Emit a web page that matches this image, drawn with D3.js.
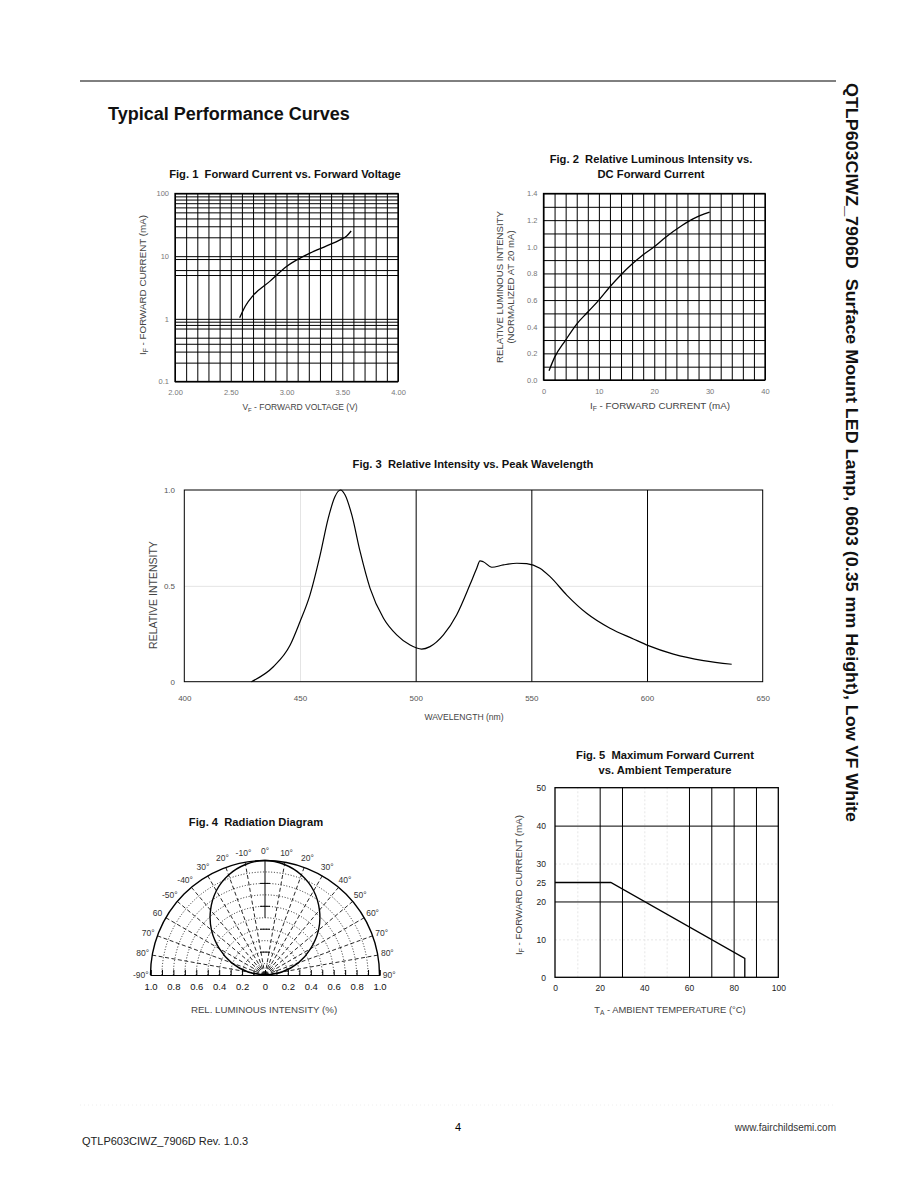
<!DOCTYPE html>
<html lang="en">
<head>
<meta charset="UTF-8">
<title>Typical Performance Curves</title>
<script src="https://cdn.jsdelivr.net/npm/d3@7/dist/d3.min.js"></script>
<style>
    body{margin:0;background:#fff;}
    svg{display:block;font-family:"Liberation Sans",Arial,Helvetica,sans-serif;}
    .pre{white-space:pre;}
</style>
</head>
<body>
<svg id="page" width="918" height="1188"></svg>
<script>

    // ---- data ----
    // fig 1: forward current vs forward voltage
    var fig1Voltage = [2.58, 2.63, 2.70, 2.85, 3.00, 3.21, 3.36, 3.48, 3.54, 3.58];
    var fig1Current = [1.04, 1.59, 2.35, 3.96, 6.86, 11.2, 14.6, 18.2, 21.0, 25.2];
    var fig1VoltTicks = [2.0, 2.5, 3.0, 3.5, 4.0];
    var fig1CurrTicks = [0.1, 1, 10, 100];
    var fig1CurrGrid = [0.2, 0.3, 0.4, 0.5, 0.7, 0.8, 0.9, 5, 6, 9, 20, 30, 40, 50, 60, 70, 80, 90];

    // fig 2: relative luminous intensity vs dc forward current
    var fig2Current = [1, 2, 4, 6, 8, 10, 12, 14, 16, 18, 20, 22, 25, 27, 30];
    var fig2Intensity = [0.07, 0.17, 0.30, 0.42, 0.51, 0.60, 0.70, 0.79, 0.87, 0.94, 1.0, 1.07, 1.16, 1.21, 1.26];
    var fig2CurrTicks = [0, 10, 20, 30, 40];
    var fig2IntTicks = [0.0, 0.2, 0.4, 0.6, 0.8, 1.0, 1.2, 1.4];

    // fig 3: relative intensity vs wavelength
    var fig3Wavelength = [429, 438.5, 445.7, 450, 454.3, 458.7, 462.2, 465.1, 467.5, 469.5, 472.4, 476, 480.3, 486.1,
        491.8, 497.6, 502.6, 506.2, 512, 517.7, 523.4, 526.4, 527.8, 529.2, 532.9, 537.9, 543.7, 548, 553.7, 558.1,
        565.3, 573.9, 584, 594.1, 600.6, 611.4, 624.4, 636.6];
    var fig3Intensity = [0, 0.078, 0.19, 0.313, 0.452, 0.66, 0.852, 0.965, 1.0, 0.974, 0.87, 0.678, 0.487, 0.331,
        0.244, 0.191, 0.17, 0.183, 0.244, 0.348, 0.504, 0.592, 0.63, 0.626, 0.597, 0.609, 0.618, 0.616, 0.592, 0.548,
        0.452, 0.357, 0.279, 0.223, 0.188, 0.144, 0.11, 0.091];
    var fig3WaveTicks = [400, 450, 500, 550, 600, 650];
    var fig3WaveGrid = [500, 550, 600];
    var fig3IntTicks = [0, 0.5, 1.0];

    // fig 4: radiation diagram (symmetric, 0..90 deg)
    var fig4Angle = [0, 10, 20, 30, 40, 50, 60, 70, 80, 90];
    var fig4Intensity = [1.0, 0.98, 0.93, 0.85, 0.74, 0.61, 0.46, 0.31, 0.15, 0];
    var fig4AngleTicks = [-90, -80, -70, -60, -50, -40, -30, -20, -10, 0, 10, 20, 30, 40, 50, 60, 70, 80, 90];
    var fig4AngleLabels = ['-90°', '80°', '70°', '60', '-50°', '-40°', '30°', '20°', '-10°', '0°',
        '10°', '20°', '30°', '40°', '50°', '60°', '70°', '80°', '90°'];
    var fig4Rings = [0.1, 0.2, 0.3, 0.4, 0.5, 0.6, 0.7, 0.8, 0.9];
    var fig4ScaleTicks = [-1, -0.8, -0.6, -0.4, -0.2, 0, 0.2, 0.4, 0.6, 0.8, 1];

    // fig 5: max forward current vs ambient temperature
    var fig5Temp = [0, 25, 85, 85];
    var fig5Current = [25, 25, 5, 0];
    var fig5TempTicks = [0, 20, 40, 60, 80, 100];
    var fig5CurrTicks = [0, 10, 20, 25, 30, 40, 50];
    var fig5TempGrid = [20, 30, 60, 70, 80, 90];
    var fig5CurrGrid = [20, 40];
    var fig5TempFaint = [10, 40, 50];
    var fig5CurrFaint = [10, 30];

    var svg = d3.select('#page');
    svg.append('rect').attr('width', 918).attr('height', 1188).attr('fill', '#fff');

    // ---- page furniture ----
    svg.append('line').attr('x1', 80).attr('x2', 836).attr('y1', 81).attr('y2', 81)
        .attr('stroke', '#000').attr('stroke-width', 1);
    svg.append('text').attr('x', 108).attr('y', 120)
        .attr('font-size', 18).attr('font-weight', 'bold').attr('fill', '#111')
        .text('Typical Performance Curves');
    svg.append('text').attr('class', 'pre').attr('transform', 'translate(846,83) rotate(90)')
        .attr('font-size', 16.5).attr('font-weight', 'bold').attr('fill', '#111')
        .attr('textLength', 739).attr('lengthAdjust', 'spacingAndGlyphs')
        .text('QTLP603CIWZ_7906D  Surface Mount LED Lamp, 0603 (0.35 mm Height), Low VF White');

    svg.append('line').attr('x1', 80).attr('x2', 836).attr('y1', 1105).attr('y2', 1105)
        .attr('stroke', '#eee').attr('stroke-dasharray', '1,3');
    svg.append('text').attr('x', 458).attr('y', 1131).attr('font-size', 11).attr('text-anchor', 'middle').text('4');
    svg.append('text').attr('x', 82).attr('y', 1145).attr('font-size', 11).attr('fill', '#222')
        .text('QTLP603CIWZ_7906D Rev. 1.0.3');
    svg.append('text').attr('x', 836).attr('y', 1131).attr('font-size', 10).attr('fill', '#333')
        .attr('text-anchor', 'end').text('www.fairchildsemi.com');

    // ---- helpers ----
    function figTitle(lines, cx, y){
        lines.forEach(function(t, i){
            svg.append('text').attr('class', 'pre').attr('x', cx).attr('y', y + i * 15)
                .attr('text-anchor', 'middle').attr('font-size', 11.2).attr('font-weight', 'bold')
                .attr('fill', '#111').text(t);
        });
    }

    // grid lines through d3 axes (no labels)
    function gridX(g, x, values, y0, y1, stroke, dash){
        g.append('g').attr('transform', 'translate(0,' + y1 + ')')
            .call(d3.axisBottom(x).tickValues(values).tickSize(-(y1 - y0)).tickFormat(''))
            .call(function(a){ a.select('.domain').remove(); })
            .selectAll('line').attr('stroke', stroke).attr('stroke-dasharray', dash || null);
    }
    function gridY(g, y, values, x0, x1, stroke, dash){
        g.append('g').attr('transform', 'translate(' + x0 + ',0)')
            .call(d3.axisLeft(y).tickValues(values).tickSize(-(x1 - x0)).tickFormat(''))
            .call(function(a){ a.select('.domain').remove(); })
            .selectAll('line').attr('stroke', stroke).attr('stroke-dasharray', dash || null);
    }
    function labelsX(g, x, values, y, fmt, size, color){
        g.append('g').attr('transform', 'translate(0,' + y + ')')
            .call(d3.axisBottom(x).tickValues(values).tickSize(0).tickPadding(6).tickFormat(fmt))
            .call(function(a){ a.select('.domain').remove(); })
            .selectAll('text').attr('font-size', size).attr('fill', color)
            .attr('font-family', '"Liberation Sans",Arial,sans-serif');
    }
    function labelsY(g, y, values, x, fmt, size, color){
        g.append('g').attr('transform', 'translate(' + x + ',0)')
            .call(d3.axisLeft(y).tickValues(values).tickSize(0).tickPadding(6).tickFormat(fmt))
            .call(function(a){ a.select('.domain').remove(); })
            .selectAll('text').attr('font-size', size).attr('fill', color)
            .attr('font-family', '"Liberation Sans",Arial,sans-serif');
    }
    function frame(g, x0, y0, x1, y1, w){
        g.append('rect').attr('x', x0).attr('y', y0).attr('width', x1 - x0).attr('height', y1 - y0)
            .attr('fill', 'none').attr('stroke', '#000').attr('stroke-width', w || 1);
    }
    // axis title with a subscript, e.g. I_F
    function subLabel(g, transform, main, sub, rest, size, color){
        var t = g.append('text').attr('transform', transform).attr('text-anchor', 'middle')
            .attr('font-size', size).attr('fill', color);
        t.append('tspan').text(main);
        t.append('tspan').attr('font-size', size * 0.7).attr('dy', 2).text(sub);
        t.append('tspan').attr('dy', -2).text(rest);
    }
    function plainLabel(g, transform, txt, size, color){
        g.append('text').attr('transform', transform).attr('text-anchor', 'middle')
            .attr('font-size', size).attr('fill', color).text(txt);
    }

    // ---- Fig 1 ----
    figTitle(['Fig. 1  Forward Current vs. Forward Voltage'], 285, 178);
    var g1 = svg.append('g');
    var x1 = d3.scaleLinear().domain([2, 4]).range([175, 398]);
    var y1 = d3.scaleLog().domain([0.1, 100]).range([381.5, 193.5]);
    gridX(g1, x1, x1.ticks(20), 193.5, 381.5, '#000');
    gridY(g1, y1, fig1CurrTicks.concat(fig1CurrGrid), 175, 398, '#000');
    frame(g1, 175, 193.5, 398, 381.5, 1.3);
    labelsX(g1, x1, fig1VoltTicks, 384, d3.format('.2f'), 7.5, '#777');
    labelsY(g1, y1, fig1CurrTicks, 175, function(d){ return d < 1 ? '0.1' : String(d); }, 7.5, '#777');
    g1.append('path')
        .datum(fig1Voltage.map(function(v, i){ return [v, fig1Current[i]]; }))
        .attr('fill', 'none').attr('stroke', '#000').attr('stroke-width', 1.3)
        .attr('d', d3.line().x(function(d){ return x1(d[0]); }).y(function(d){ return y1(d[1]); })
            .curve(d3.curveMonotoneX));
    subLabel(g1, 'translate(146,285) rotate(-90)', 'I', 'F', ' - FORWARD CURRENT (mA)', 9.8, '#444');
    subLabel(g1, 'translate(300,410)', 'V', 'F', ' - FORWARD VOLTAGE (V)', 8.5, '#444');

    // ---- Fig 2 ----
    figTitle(['Fig. 2  Relative Luminous Intensity vs.', 'DC Forward Current'], 651, 163);
    var g2 = svg.append('g');
    var x2 = d3.scaleLinear().domain([0, 40]).range([543.5, 765]);
    var y2 = d3.scaleLinear().domain([0, 1.4]).range([380, 193.5]);
    gridX(g2, x2, x2.ticks(20), 193.5, 380, '#000');
    gridY(g2, y2, y2.ticks(14), 543.5, 765, '#000');
    frame(g2, 543.5, 193.5, 765, 380, 1.3);
    labelsX(g2, x2, fig2CurrTicks, 383, d3.format('d'), 7.5, '#777');
    labelsY(g2, y2, fig2IntTicks, 543.5, d3.format('.1f'), 7.5, '#777');
    g2.append('path')
        .datum(fig2Current.map(function(v, i){ return [v, fig2Intensity[i]]; }))
        .attr('fill', 'none').attr('stroke', '#000').attr('stroke-width', 1.3)
        .attr('d', d3.line().x(function(d){ return x2(d[0]); }).y(function(d){ return y2(d[1]); })
            .curve(d3.curveMonotoneX));
    plainLabel(g2, 'translate(503,287) rotate(-90)', 'RELATIVE LUMINOUS INTENSITY', 9.6, '#444');
    plainLabel(g2, 'translate(514,287) rotate(-90)', '(NORMALIZED AT 20 mA)', 9.6, '#444');
    subLabel(g2, 'translate(660,409)', 'I', 'F', ' - FORWARD CURRENT (mA)', 9.8, '#444');

    // ---- Fig 3 ----
    figTitle(['Fig. 3  Relative Intensity vs. Peak Wavelength'], 473, 468);
    var g3 = svg.append('g');
    var x3 = d3.scaleLinear().domain([400, 650]).range([184.3, 762.7]);
    var y3 = d3.scaleLinear().domain([0, 1]).range([681.7, 490]);
    gridX(g3, x3, [450], 490, 681.7, '#e4e4e4');
    gridY(g3, y3, [0.5], 184.3, 762.7, '#e4e4e4');
    gridX(g3, x3, fig3WaveGrid, 490, 681.7, '#000');
    frame(g3, 184.3, 490, 762.7, 681.7, 1);
    labelsX(g3, x3, fig3WaveTicks, 689, d3.format('d'), 8, '#555');
    labelsY(g3, y3, fig3IntTicks, 181, function(d){ return d === 0 ? '0' : d3.format('.1f')(d); }, 8, '#555');
    g3.append('path')
        .datum(fig3Wavelength.map(function(v, i){ return [v, fig3Intensity[i]]; }))
        .attr('fill', 'none').attr('stroke', '#000').attr('stroke-width', 1.2)
        .attr('d', d3.line().x(function(d){ return x3(d[0]); }).y(function(d){ return y3(d[1]); })
            .curve(d3.curveMonotoneX));
    plainLabel(g3, 'translate(157,595) rotate(-90)', 'RELATIVE INTENSITY', 10.5, '#444');
    plainLabel(g3, 'translate(464,720)', 'WAVELENGTH (nm)', 8.6, '#444');

    // ---- Fig 4 ----
    figTitle(['Fig. 4  Radiation Diagram'], 256, 826);
    var R4 = 114.5;
    var r4 = d3.scaleLinear().domain([0, 1]).range([0, R4]);
    var s4 = d3.scaleLinear().domain([-1, 1]).range([-R4, R4]);
    var g4 = svg.append('g').attr('transform', 'translate(265,975)');
    function toRad(a){ return a * Math.PI / 180; }

    // dotted rings
    fig4Rings.forEach(function(v){
        var p = d3.path();
        p.moveTo(-r4(v), 0);
        p.arc(0, 0, r4(v), Math.PI, 0);
        g4.append('path').attr('d', p.toString()).attr('fill', 'none')
            .attr('stroke', '#111').attr('stroke-width', 0.9).attr('stroke-dasharray', '1,1.8');
    });
    // dashed spokes
    g4.selectAll('line.spoke').data(fig4AngleTicks.filter(function(a){ return Math.abs(a) < 90 && a !== 0; }))
        .enter().append('line').attr('class', 'spoke')
        .attr('x1', 0).attr('y1', 0)
        .attr('x2', function(a){ return r4(1) * Math.sin(toRad(a)); })
        .attr('y2', function(a){ return -r4(1) * Math.cos(toRad(a)); })
        .attr('stroke', '#111').attr('stroke-width', 0.9).attr('stroke-dasharray', '4,2.5');
    // 0 deg axis with cross ticks
    g4.append('line').attr('x1', 0).attr('x2', 0).attr('y1', -r4(0.5)).attr('y2', -r4(1))
        .attr('stroke', '#000').attr('stroke-width', 1);
    g4.selectAll('line.cross').data([0.2, 0.4, 0.6, 0.8])
        .enter().append('line').attr('class', 'cross')
        .attr('x1', -5).attr('x2', 5)
        .attr('y1', function(d){ return -r4(d); }).attr('y2', function(d){ return -r4(d); })
        .attr('stroke', '#000').attr('stroke-width', 1);
    // outer semicircle + baseline
    var outer = d3.path();
    outer.moveTo(-r4(1), 0);
    outer.arc(0, 0, r4(1), Math.PI, 0);
    g4.append('path').attr('d', outer.toString()).attr('fill', 'none')
        .attr('stroke', '#000').attr('stroke-width', 1.4);
    g4.append('g')
        .call(d3.axisTop(s4).tickValues(s4.ticks(20)).tickSize(5).tickFormat(''))
        .call(function(a){ a.select('.domain').attr('stroke-width', 1.2); });
    labelsX(g4, s4, fig4ScaleTicks, 2, function(d){ return d === 0 ? '0' : d3.format('.1f')(Math.abs(d)); }, 9.5, '#111');
    // angle labels
    g4.selectAll('text.ang').data(fig4AngleTicks)
        .enter().append('text').attr('class', 'ang')
        .attr('x', function(a){ return r4(1.085) * Math.sin(toRad(a)); })
        .attr('y', function(a){ return -r4(1.085) * Math.cos(toRad(a)); })
        .attr('dy', '0.35em').attr('text-anchor', 'middle')
        .attr('font-size', 8.5).attr('fill', '#333')
        .text(function(a, i){ return fig4AngleLabels[i]; });
    // radiation lobe (mirror the measured half)
    var lobe = fig4Angle.slice().reverse().map(function(a, i){ return [-a, fig4Intensity[fig4Angle.length - 1 - i]]; })
        .concat(fig4Angle.slice(1).map(function(a, i){ return [a, fig4Intensity[i + 1]]; }));
    g4.append('path').datum(lobe)
        .attr('fill', 'none').attr('stroke', '#000').attr('stroke-width', 1.4)
        .attr('d', d3.lineRadial()
            .angle(function(d){ return toRad(d[0]); })
            .radius(function(d){ return r4(d[1]); })
            .curve(d3.curveCardinal));
    plainLabel(svg, 'translate(264,1013)', 'REL. LUMINOUS INTENSITY (%)', 9.7, '#444');

    // ---- Fig 5 ----
    figTitle(['Fig. 5  Maximum Forward Current', 'vs. Ambient Temperature'], 665, 759);
    var g5 = svg.append('g');
    var x5 = d3.scaleLinear().domain([0, 100]).range([555, 778.3]);
    var y5 = d3.scaleLinear().domain([0, 50]).range([977.3, 787.7]);
    gridX(g5, x5, fig5TempFaint, 787.7, 977.3, '#e6e6e6', '2,2');
    gridY(g5, y5, fig5CurrFaint, 555, 778.3, '#e6e6e6', '2,2');
    gridX(g5, x5, fig5TempGrid, 787.7, 977.3, '#000');
    gridY(g5, y5, fig5CurrGrid, 555, 778.3, '#000');
    frame(g5, 555, 787.7, 778.3, 977.3, 1.3);
    labelsX(g5, x5, fig5TempTicks, 979, d3.format('d'), 8.5, '#222');
    labelsY(g5, y5, fig5CurrTicks, 552, d3.format('d'), 8.5, '#222');
    g5.append('path')
        .datum(fig5Temp.map(function(v, i){ return [v, fig5Current[i]]; }))
        .attr('fill', 'none').attr('stroke', '#000').attr('stroke-width', 1.3)
        .attr('d', d3.line().x(function(d){ return x5(d[0]); }).y(function(d){ return y5(d[1]); }));
    subLabel(g5, 'translate(522,885) rotate(-90)', 'I', 'F', ' - FORWARD CURRENT (mA)', 9.8, '#444');
    subLabel(g5, 'translate(670,1013)', 'T', 'A', ' - AMBIENT TEMPERATURE (°C)', 9.4, '#444');

</script>
</body>
</html>
